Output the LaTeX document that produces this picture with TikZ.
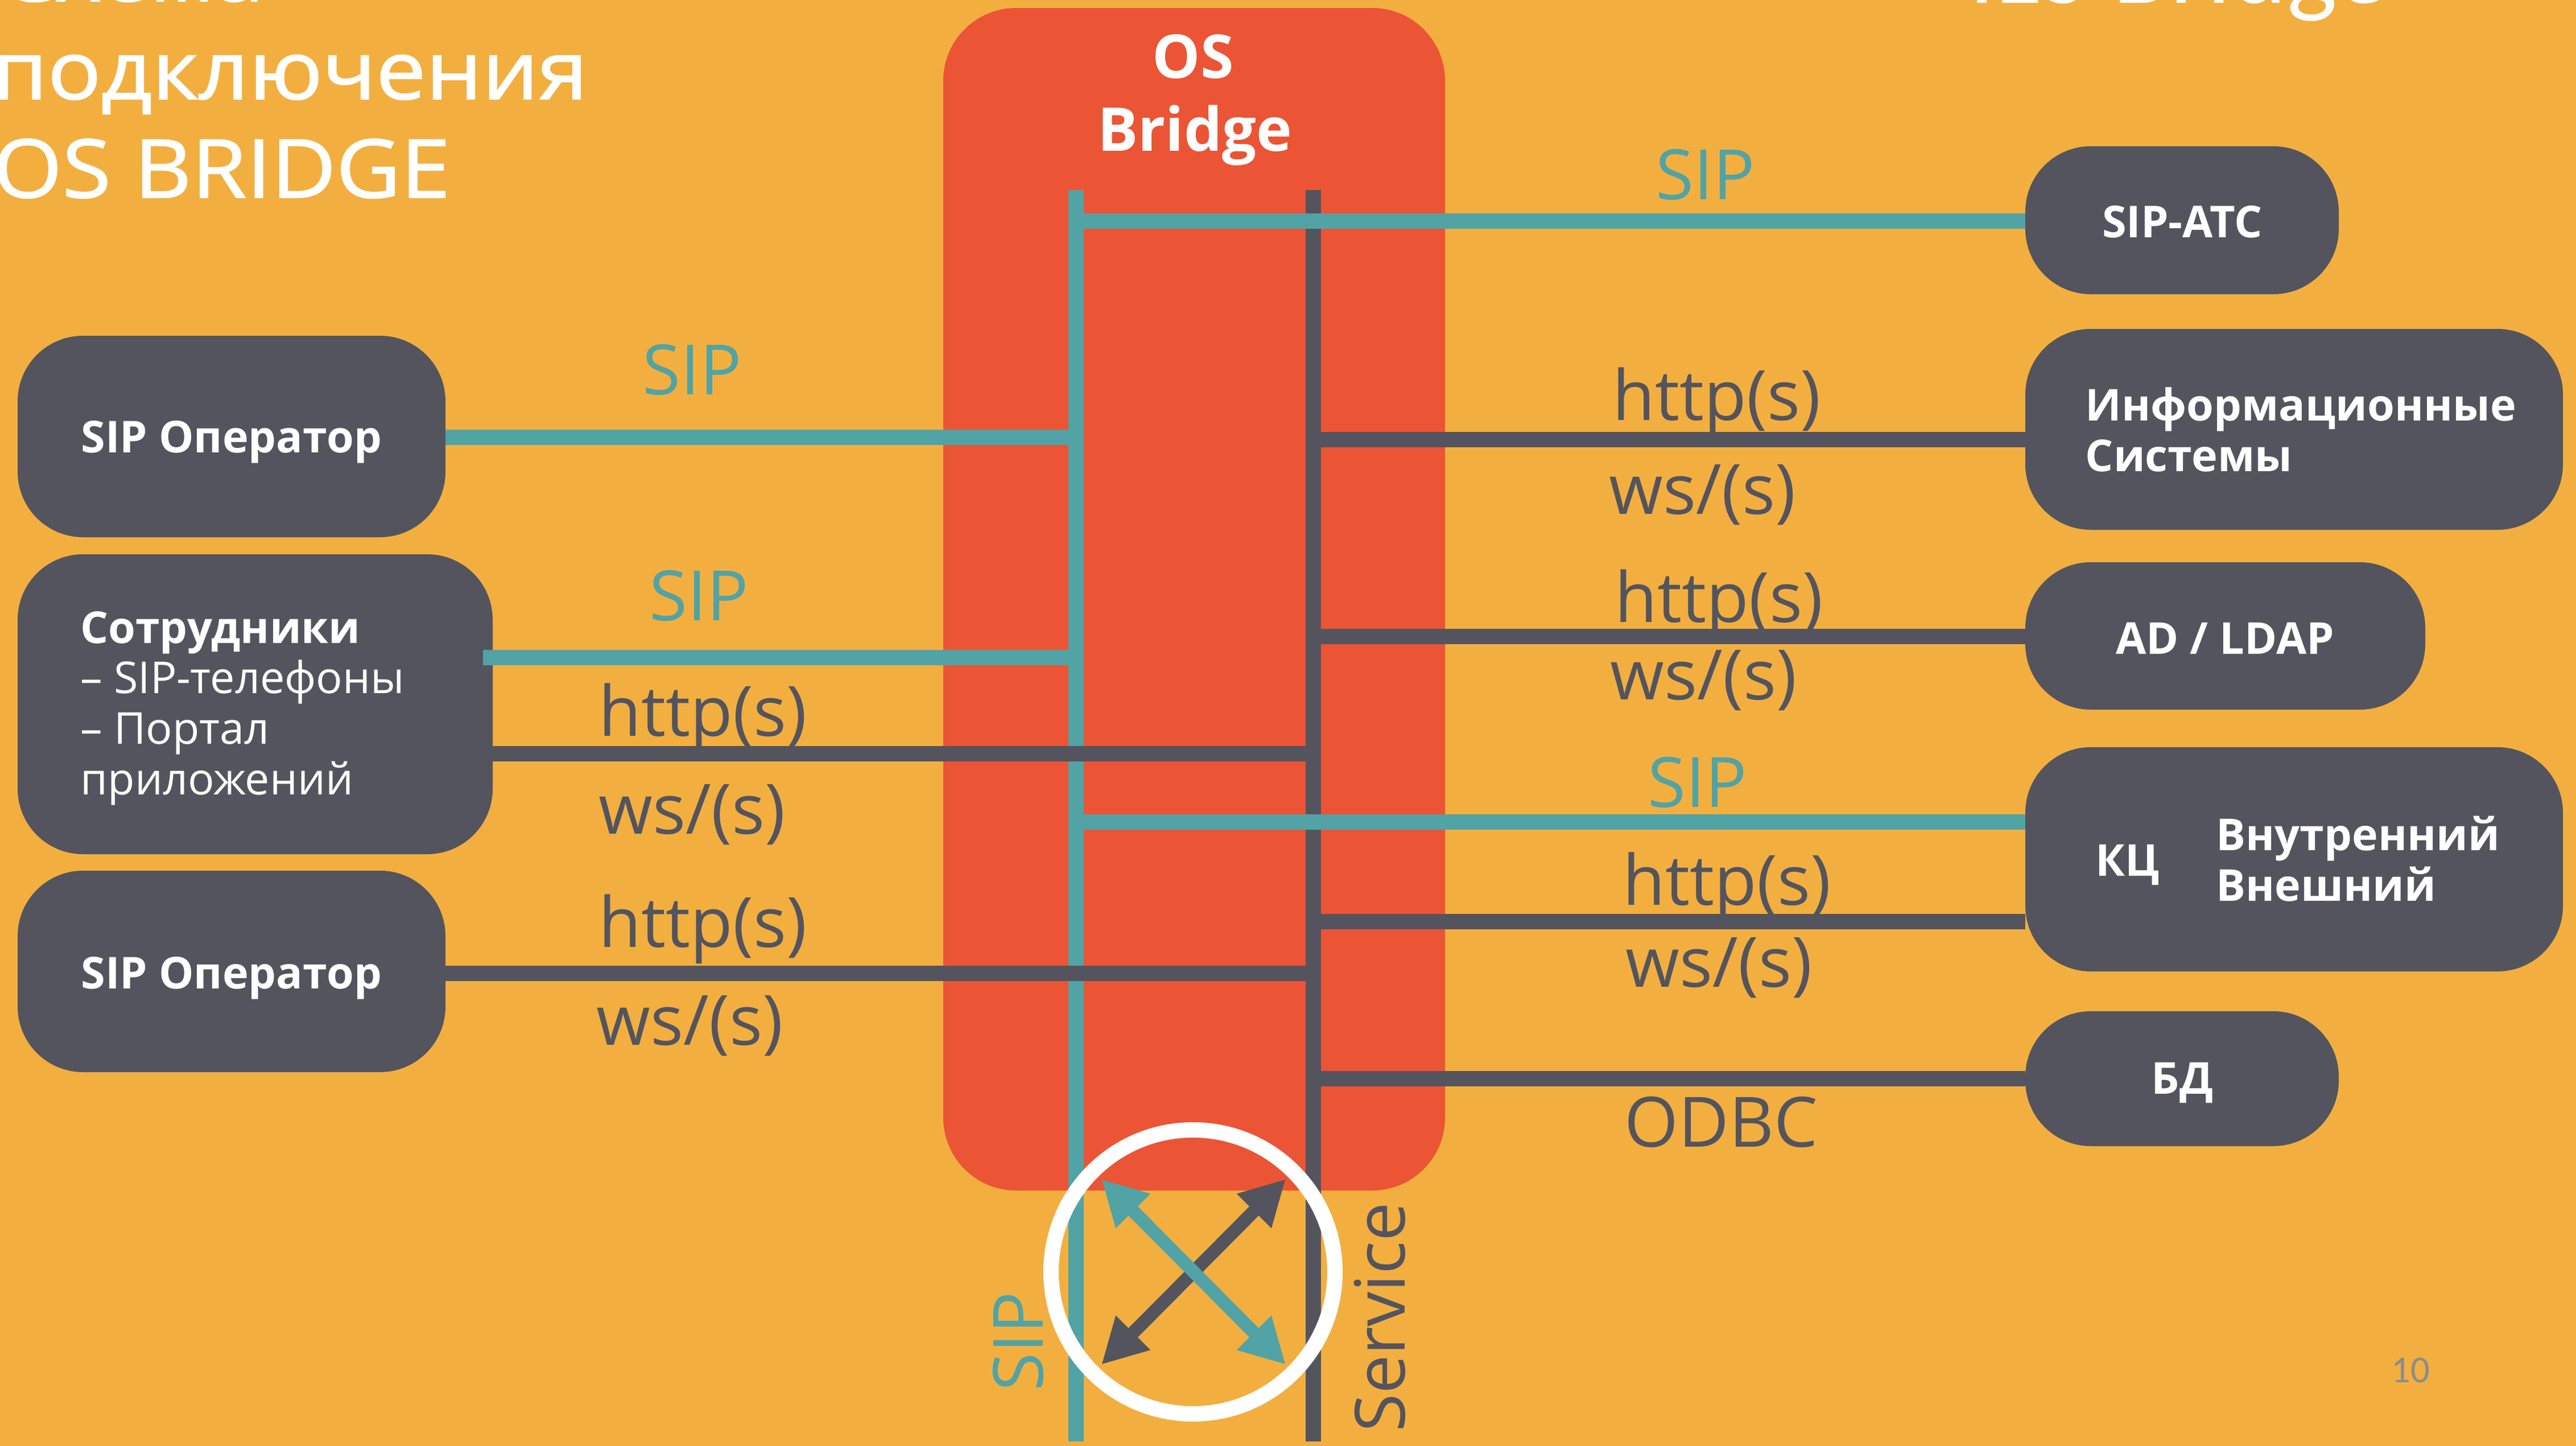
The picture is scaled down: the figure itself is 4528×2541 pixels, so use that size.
\documentclass[tikz,border=0pt]{standalone}
\usepackage{fontspec}
\setmainfont{Open Sans}
\newfontfamily\carl{Carlito}
\newfontfamily\titlef[FakeBold=1.5,FakeStretch=1.1]{Open Sans}
\usetikzlibrary{arrows.meta}
\definecolor{bg}{HTML}{F2AF40}
\definecolor{osred}{HTML}{EB5434}
\definecolor{dk}{HTML}{54545E}
\definecolor{tl}{HTML}{51A3A5}
\definecolor{pg}{HTML}{8C8C8C}
\tikzset{
 box/.style={fill=dk, rounded corners=11.5mm, inner sep=0pt, outer sep=0pt},
 tline/.style={draw=tl, line width=2.7mm},
 dline/.style={draw=dk, line width=2.7mm},
 lbl/.style={anchor=base west, inner sep=0pt, font=\fontsize{34.7}{40}\selectfont},
 tlbl/.style={lbl, text=tl},
 dlbl/.style={lbl, text=dk},
 btxt/.style={text=white, inner sep=0pt, font=\bfseries\fontsize{22}{26}\selectfont},
 rtxt/.style={text=white, inner sep=0pt, anchor=base west, font=\fontsize{22}{26}\selectfont},
 ttl/.style={text=white, inner sep=0pt, anchor=base west, font=\titlef\fontsize{40.4}{48}\selectfont},
 dblarrow/.style={line width=2.3mm, {Triangle[length=7.9mm,width=8mm]}-{Triangle[length=7.9mm,width=8mm]}},
}
\begin{document}
\begin{tikzpicture}[x=0.1mm,y=-0.1mm]
\useasboundingbox (0,0) rectangle (4528,2541);
\fill[bg] (0,0) rectangle (4528,2541);

% titles (partly cut off)
\node[ttl] (t1) at (-3,2) {Схема};
\node[ttl] (t2) at (-14,174) {подключения};
\node[ttl] (t3) at (-13,347) {OS BRIDGE};
\node[text=white, inner sep=0pt, anchor=base east, font=\carl\fontsize{53}{60}\selectfont] (t4) at (4200,6) {ILS Bridge};

% OS Bridge block
\node[fill=osred, rounded corners=12.8mm, inner sep=0pt, outer sep=0pt,
      minimum width=88.2mm, minimum height=207.8mm] (osb) at (2099,1053) {};
\node[text=white, inner sep=0pt, anchor=base, font=\bfseries\fontsize{30.2}{36}\selectfont] (osb1) at (2097,138) {OS};
\node[text=white, inner sep=0pt, anchor=base, font=\bfseries\fontsize{30.2}{36}\selectfont] (osb2) at (2100,265) {Bridge};

% buses
\coordinate (sipT) at (1891,334);
\coordinate (sipB) at (1891,2533);
\coordinate (svcT) at (2308,334);
\coordinate (svcB) at (2308,2533);

% y levels
\coordinate (yA) at (0,768);
\coordinate (yB) at (0,1155);
\coordinate (yC) at (0,1324);
\coordinate (yD) at (0,1710);
\coordinate (yE) at (0,388);
\coordinate (yF) at (0,772);
\coordinate (yG) at (0,1118);
\coordinate (yH) at (0,1444);
\coordinate (yI) at (0,1619);
\coordinate (yJ) at (0,1895);

% boxes
\node[box, minimum width=75.2mm, minimum height=35.4mm] (op1) at (407,767) {};
\node[box, minimum width=83.5mm, minimum height=52.7mm] (emp) at (448.5,1237.5) {};
\node[box, minimum width=75.2mm, minimum height=35.4mm] (op2) at (407,1707) {};
\node[box, minimum width=55.1mm, minimum height=26mm] (atc) at (3835.5,387) {};
\node[box, minimum width=94.5mm, minimum height=35.3mm] (info) at (4032.5,754.5) {};
\node[box, minimum width=70.3mm, minimum height=25.9mm] (ldap) at (3911.5,1117.5) {};
\node[box, minimum width=94.5mm, minimum height=39.4mm] (kc) at (4032.5,1510) {};
\node[box, minimum width=55.1mm, minimum height=23.7mm] (db) at (3835.5,1895.5) {};

% vertical buses
\draw[tline] (sipT) -- (sipB);
\draw[dline] (svcT) -- (svcB);

% connectors
\draw[tline] (op1.east |- yA) -- (sipT |- yA);
\draw[tline] ([xshift=-1.7mm]emp.east |- yB) -- ([xshift=-1.35mm]sipT |- yB);
\draw[dline] (emp.east |- yC) -- (svcT |- yC);
\draw[dline] (op2.east |- yD) -- (svcT |- yD);
\draw[tline] (sipT |- yE) -- (atc.west |- yE);
\draw[dline] (svcT |- yF) -- (info.west |- yF);
\draw[dline] (svcT |- yG) -- (ldap.west |- yG);
\draw[tline] (sipT |- yH) -- (kc.west |- yH);
\draw[dline] (svcT |- yI) -- (kc.west |- yI);
\draw[dline] (svcT |- yJ) -- (db.west |- yJ);

% box texts
\node[btxt, anchor=base] (op1t) at (407,795) {SIP Оператор};
\node[btxt, anchor=base west] (empt1) at (141,1130) {Сотрудники};
\node[rtxt] (empt2) at (141,1218) {– SIP-телефоны};
\node[rtxt] (empt3) at (141,1307) {– Портал};
\node[rtxt] (empt4) at (141,1396) {приложений};
\node[btxt, anchor=base] (op2t) at (407,1737) {SIP Оператор};
\node[btxt, anchor=base] (atct) at (3836,417) {SIP-АТС};
\node[btxt, anchor=base west] (infot1) at (3665,739) {Информационные};
\node[btxt, anchor=base west] (infot2) at (3665,828) {Системы};
\node[btxt, anchor=base] (ldapt) at (3911,1149) {AD / LDAP};
\node[btxt, anchor=base west] (kct) at (3683,1539) {КЦ};
\node[btxt, anchor=base west] (kct1) at (3895,1494) {Внутренний};
\node[btxt, anchor=base west] (kct2) at (3895,1583) {Внешний};
\node[btxt, anchor=base] (dbt) at (3836,1922) {БД};

% connector labels, left
\node[tlbl] (l1) at (1129,693) {SIP};
\node[tlbl] (l2) at (1141,1090) {SIP};
\node[dlbl] (l3) at (1052,1293) {http(s)};
\node[dlbl] (l4) at (1052,1465) {ws/(s)};
\node[dlbl] (l5) at (1052,1664) {http(s)};
\node[dlbl] (l6) at (1048,1836) {ws/(s)};
% connector labels, right
\node[tlbl] (r1) at (2910,351) {SIP};
\node[dlbl] (r2) at (2834,738) {http(s)};
\node[dlbl] (r3) at (2828,903) {ws/(s)};
\node[dlbl] (r4) at (2838,1093) {http(s)};
\node[dlbl] (r5) at (2830,1229) {ws/(s)};
\node[tlbl] (r6) at (2896,1418) {SIP};
\node[dlbl] (r7) at (2852,1590) {http(s)};
\node[dlbl] (r8) at (2857,1734) {ws/(s)};
\node[dlbl] (r9) at (2855,2015) {ODBC};

% bus names
\node[rotate=90, anchor=base, inner sep=0pt, text=tl, font=\fontsize{34.7}{40}\selectfont] (vsip) at (1833,2357) {SIP};
\node[rotate=90, anchor=base, inner sep=0pt, text=dk, font=\fontsize{34.7}{40}\selectfont] (vsvc) at (2469,2315) {Service};

% ring and crossing arrows
\node[circle, draw=white, line width=2.7mm, minimum size=49.9mm, inner sep=0pt] (ring) at (2097,2235) {};
\coordinate (a1) at (2260,2072);
\coordinate (a2) at (1936,2398);
\coordinate (b1) at (1936,2072);
\coordinate (b2) at (2260,2398);
\draw[dblarrow, dk] (a1) -- (a2);
\draw[dblarrow, tl] (b1) -- (b2);

% page number
\node[anchor=base west, inner sep=0pt, text=pg, font=\carl\fontsize{19}{22}\selectfont] (pnum) at (4203,2429) {10};
\end{tikzpicture}
\end{document}
